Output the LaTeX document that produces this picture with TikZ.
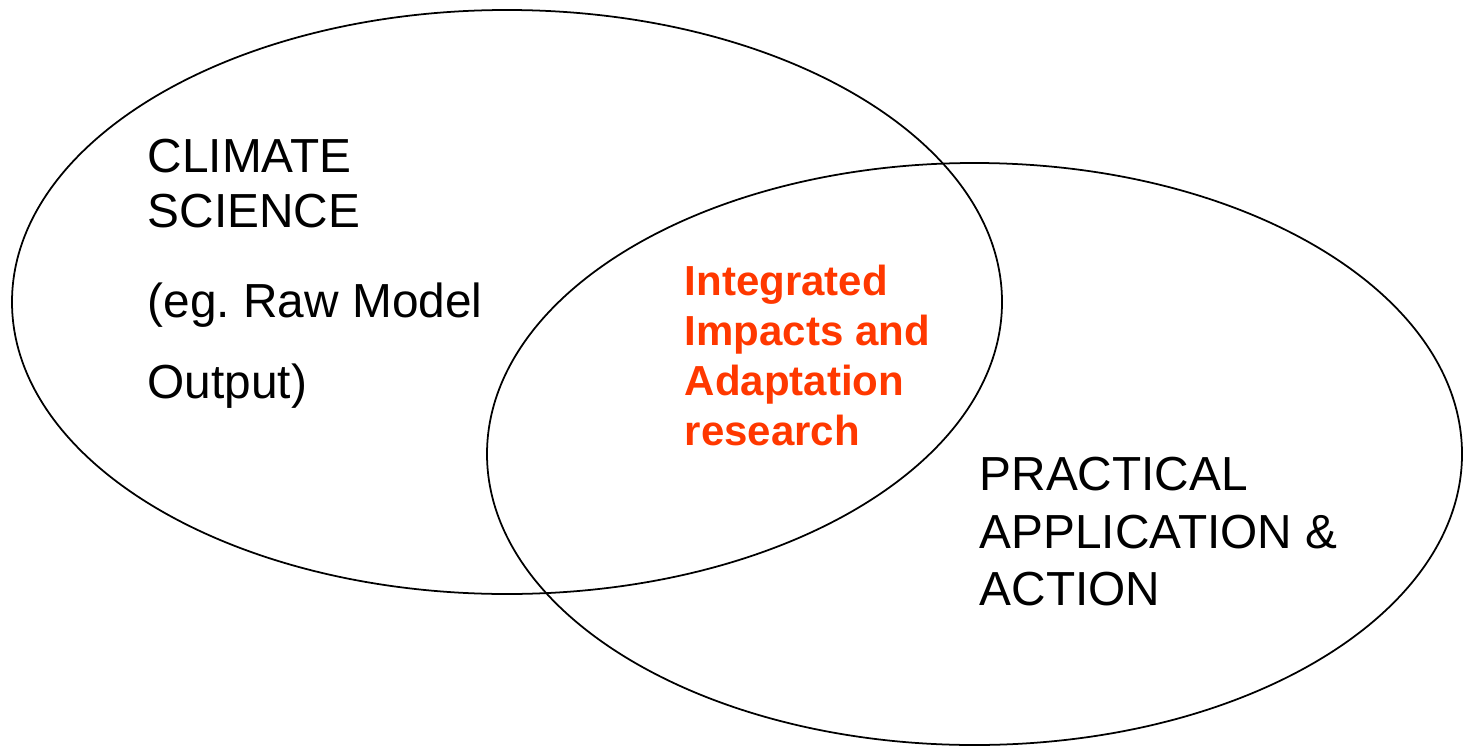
\documentclass[tikz,border=0pt]{standalone}
\usepackage{fontspec}
\setmainfont{Liberation Sans}
\usepackage{xcolor}
\usepackage{tikz}
\definecolor{impactred}{RGB}{255,56,0}

\begin{document}
\begin{tikzpicture}[
    field/.style={font=\fontsize{13.6}{16}\selectfont, anchor=base west, inner sep=0pt},
    overlap/.style={font=\fontsize{11.95}{14}\selectfont\bfseries, text=impactred, anchor=base west, inner sep=0pt},
]
\useasboundingbox (0,0) rectangle (14.67,7.47);

% The two circles of the diagram
\draw[line width=0.5pt] (5.07,4.45) ellipse [x radius=4.95, y radius=2.92];
\draw[line width=0.5pt] (9.745,2.93) ellipse [x radius=4.875, y radius=2.91];

% Left set
\node[field] (sci1) at (1.47,5.74) {CLIMATE};
\node[field] (sci2) at (1.47,5.20) {SCIENCE};
\node[field] (raw1) at (1.47,4.30) {(eg.\ Raw Model};
\node[field] (raw2) at (1.47,3.49) {Output)};

% Overlap
\node[overlap] (int1) at (6.84,4.52) {Integrated};
\node[overlap] (int2) at (6.84,4.02) {Impacts and};
\node[overlap] (int3) at (6.84,3.52) {Adaptation};
\node[overlap] (int4) at (6.84,3.02) {research};

% Right set
\node[field] (act1) at (9.79,2.57) {PRACTICAL};
\node[field] (act2) at (9.79,1.99) {APPLICATION \&};
\node[field] (act3) at (9.79,1.42) {ACTION};

\end{tikzpicture}
\end{document}
